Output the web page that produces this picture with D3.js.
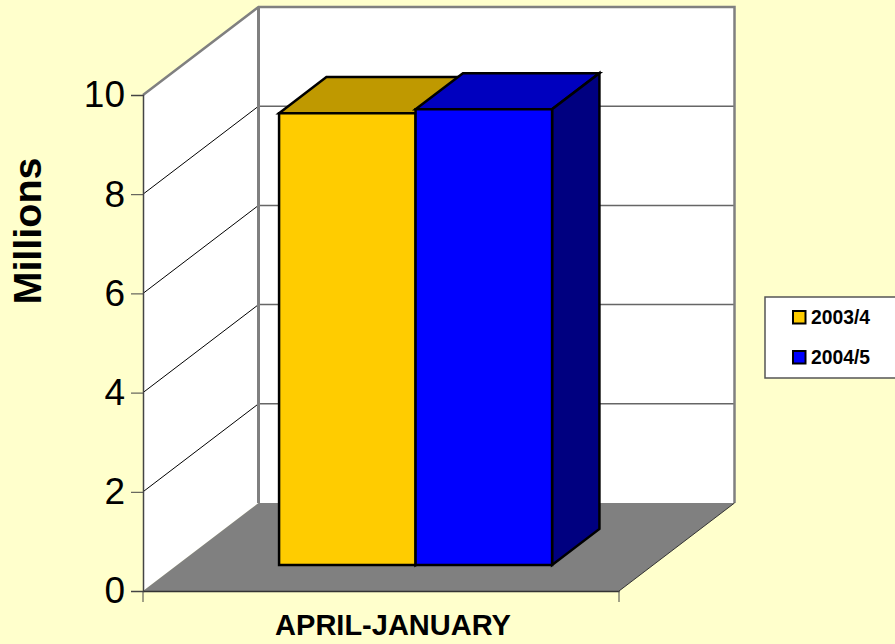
<!DOCTYPE html>
<html>
<head>
<meta charset="utf-8">
<script src="https://cdn.jsdelivr.net/npm/d3@7"></script>
<style>
html, body { margin: 0; padding: 0; background: #FFFFCC; overflow: hidden; }
text { font-family: "Liberation Sans", Arial, sans-serif; fill: #000; }
</style>
</head>
<body>
<div id="chart"></div>
<script>
const categories = ["APRIL-JANUARY"];
const seriesNames = ["2003/4", "2004/5"];
const values = [9.11, 9.19];
const yTicks = [0, 2, 4, 6, 8, 10];

const frontColors = ["#FFCC00", "#0000FF"];
const topColors = ["#BF9900", "#0000BF"];
const sideColors = ["#BF9900", "#000080"];

const width = 895, height = 644;

const svg = d3.select("#chart")
    .append("svg")
    .attr("width", width)
    .attr("height", height)
    .style("display", "block");

svg.append("rect")
    .attr("width", width)
    .attr("height", height)
    .attr("fill", "#FFFFCC");

// front plane scales, the depth goes up and right from there
const x = d3.scaleBand().domain(categories).range([143, 619]).paddingInner(0);
const y = d3.scaleLinear().domain([0, 10]).range([591, 95]);
const inner = d3.scaleBand().domain(seriesNames).range([245, 518]);
const depthX = 115.5, depthY = 88;

function pt(px, v, depth) {
    return [px + depth * depthX, y(v) - depth * depthY];
}

const poly = d3.line();

function face(g, points, fill, stroke, sw) {
    return g.append("path")
        .attr("d", poly(points) + "Z")
        .attr("fill", fill)
        .attr("stroke", stroke)
        .attr("stroke-width", sw)
        .attr("stroke-linejoin", "miter");
}

const left = x.range()[0], right = x.range()[1];
const walls = svg.append("g");

// side wall
face(walls, [pt(left, 0, 0), pt(left, 10, 0), pt(left, 10, 1), pt(left, 0, 1)], "#fff", "none", 0);
// back wall
face(walls, [pt(left, 0, 1), pt(left, 10, 1), pt(right, 10, 1), pt(right, 0, 1)], "#fff", "none", 0);
// floor
face(walls, [pt(left, 0, 0), pt(left, 0, 1), pt(right, 0, 1), pt(right, 0, 0)], "#808080", "none", 0);

// gridlines
yTicks.slice(1, -1).forEach(t => {
    walls.append("path").attr("d", poly([pt(left, t, 0), pt(left, t, 1)]))
        .attr("fill", "none").attr("stroke", "#000").attr("stroke-width", 1);
    walls.append("path").attr("d", poly([pt(left, t, 1), pt(right, t, 1)]))
        .attr("fill", "none").attr("stroke", "#666").attr("stroke-width", 1.5);
});

// wall outlines
walls.append("path").attr("d", poly([pt(left, 10, 0), pt(left, 10, 1), pt(right, 10, 1), pt(right, 0, 1)]))
    .attr("fill", "none").attr("stroke", "#808080").attr("stroke-width", 2.5);
walls.append("path").attr("d", poly([pt(left, 0, 1), pt(left, 10, 1)]))
    .attr("fill", "none").attr("stroke", "#808080").attr("stroke-width", 3);
walls.append("path").attr("d", poly([pt(right, 0, 0), pt(right, 0, 1)]))
    .attr("fill", "none").attr("stroke", "#333").attr("stroke-width", 1);

// bars
const barFront = 0.295, barBack = 0.705;
const bars = svg.append("g");

seriesNames.forEach((name, i) => {
    const x0 = inner(name), x1 = x0 + inner.bandwidth(), v = values[i];
    face(bars, [pt(x0, v, barFront), pt(x0, v, barBack), pt(x1, v, barBack), pt(x1, v, barFront)], topColors[i], "#000", 2.5);
    face(bars, [pt(x1, 0, barFront), pt(x1, v, barFront), pt(x1, v, barBack), pt(x1, 0, barBack)], sideColors[i], "#000", 2.5);
    face(bars, [pt(x0, 0, barFront), pt(x0, v, barFront), pt(x1, v, barFront), pt(x1, 0, barFront)], frontColors[i], "#000", 2.5);
});

// axes
const yAxis = svg.append("g")
    .attr("transform", `translate(${left},0)`)
    .call(d3.axisLeft(y).tickValues(yTicks).tickSize(12).tickPadding(6).tickFormat(d3.format("d")));
yAxis.select(".domain").attr("stroke", "#444").attr("stroke-width", 1.5);
yAxis.selectAll(".tick line").attr("stroke", "#444");
yAxis.selectAll("text").style("font-size", "37px");

const xAxis = svg.append("g")
    .attr("transform", `translate(0,${y(0)})`)
    .call(d3.axisBottom(x).tickValues([]).tickSize(0));
xAxis.select(".domain").attr("stroke", "#333").attr("stroke-width", 1.5);

[left, right].forEach(px => {
    svg.append("line")
        .attr("x1", px).attr("x2", px)
        .attr("y1", y(0)).attr("y2", y(0) + 11)
        .attr("stroke", "#444").attr("stroke-width", 1);
});

svg.append("text")
    .attr("x", 393)
    .attr("y", 635)
    .attr("text-anchor", "middle")
    .style("font-size", "29px")
    .style("font-weight", "bold")
    .text(categories[0]);

svg.append("text")
    .attr("transform", "translate(41,231) rotate(-90)")
    .attr("text-anchor", "middle")
    .style("font-size", "39.5px")
    .style("font-weight", "bold")
    .text("Millions");

// legend
const legend = svg.append("g");
legend.append("rect")
    .attr("x", 765).attr("y", 297)
    .attr("width", 140).attr("height", 81)
    .attr("fill", "#fff").attr("stroke", "#555").attr("stroke-width", 1.5);

const legendY = d3.scalePoint().domain(seriesNames).range([317.5, 357.5]);
seriesNames.forEach((name, i) => {
    legend.append("rect")
        .attr("x", 793).attr("y", legendY(name) - 6.5)
        .attr("width", 12.5).attr("height", 12.5)
        .attr("fill", frontColors[i]).attr("stroke", "#000").attr("stroke-width", 2);
    legend.append("text")
        .attr("x", 811).attr("y", legendY(name) + 6.5)
        .style("font-size", "19.3px")
        .style("font-weight", "bold")
        .text(name);
});
</script>
</body>
</html>
